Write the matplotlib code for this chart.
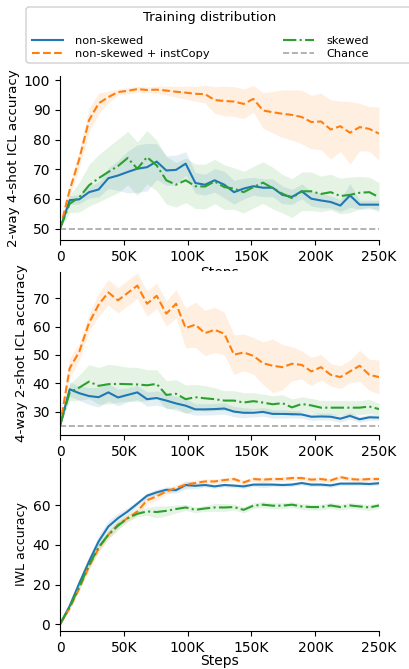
import numpy as np
import matplotlib
matplotlib.use("Agg")
import matplotlib.pyplot as plt
from matplotlib.ticker import FuncFormatter
from matplotlib.transforms import Bbox, TransformedBbox, IdentityTransform
from matplotlib.lines import Line2D
from matplotlib.patches import FancyBboxPatch

# ---------------- data ----------------
steps = np.linspace(0, 250000, 34)

# Panel 1: 2-way 4-shot ICL accuracy
p1_blue = [50, 59.6, 59.9, 62.3, 63.2, 67.0, 67.9, 69.1, 70.2, 70.7, 72.6, 69.6, 69.8, 71.9, 65.4,
           64.8, 66.3, 64.8, 62.3, 63.5, 64.3, 63.8, 63.8, 61.4, 60.7, 62.6, 60.1, 59.5, 59.0, 57.8,
           61.2, 58.1, 58.1, 58.1]
p1_blue_ci = [0, 1.5, 1.5, 2, 2.5, 3.5, 5, 7, 8, 8, 6, 5, 5, 4, 3.5, 3.5, 4, 4.5, 4, 3.5, 3, 3, 3, 3,
              2.5, 2.5, 2.5, 2.5, 2, 2, 4, 1.5, 1.5, 1.5]
p1_orange = [50, 63, 73.5, 86.5, 92.2, 94.3, 96.0, 96.4, 97.0, 96.7, 96.8, 96.5, 96.1, 95.8, 95.4,
             95.3, 93.3, 93.0, 92.8, 92.0, 93.7, 89.8, 89.2, 88.7, 88.3, 87.6, 85.9, 86.1, 83.4, 84.5,
             82.3, 84.2, 83.6, 82.0]
p1_orange_ci = [0, 2, 3, 4, 3.5, 2, 1, 1, 1, 1, 1.2, 1.5, 1.8, 2.2, 2.5, 3, 4.5, 5, 5, 5, 4.5, 6, 7, 8,
                8.5, 9, 9, 9.5, 10, 8.5, 10.5, 8, 7.5, 9]
p1_green = [50, 58.4, 60.6, 64.6, 67.0, 69.1, 71.1, 73.8, 70.2, 74.1, 71.3, 66.3, 64.8, 66.3, 64.3,
            64.2, 65.9, 64.0, 63.5, 62.3, 64.0, 65.5, 63.7, 61.8, 60.3, 62.6, 62.6, 61.7, 62.3, 61.0,
            61.4, 62.1, 62.3, 60.6]
p1_green_ci = [0, 3, 5, 7, 8, 8.5, 9, 9, 9, 9, 8.5, 8, 7.5, 7.5, 7.5, 7.5, 7.5, 7.5, 7, 7, 7, 7, 7,
               6.5, 6.5, 6.5, 6.5, 6, 6, 6, 6, 5.5, 5, 5]

# Panel 2: 4-way 2-shot ICL accuracy
p2_blue = [25, 37.9, 36.5, 35.5, 35.1, 36.8, 35.0, 35.9, 36.8, 34.4, 34.8, 33.9, 32.9, 32.1, 30.8,
           30.8, 30.9, 31.1, 30.0, 29.6, 29.6, 29.9, 29.2, 29.2, 29.1, 29.0, 28.2, 28.3, 28.2, 27.5,
           28.5, 27.3, 28.0, 27.9]
p2_blue_ci = [0, 2.5, 2.5, 3, 3.5, 3, 3, 2.5, 2.5, 2.5, 2.5, 2.5, 2.5, 2.5, 2, 2, 2, 2, 1.8, 1.8, 1.5,
              1.5, 1.5, 1.5, 1.3, 1.3, 1.3, 1.2, 1.2, 1.2, 1.2, 1.0, 1.0, 1.0]
p2_orange = [25, 45.3, 51.2, 61.3, 67.8, 72.1, 69.3, 71.9, 74.5, 68.1, 70.9, 64.6, 68.1, 59.5, 60.7,
             57.7, 58.9, 57.5, 50.1, 50.9, 49.7, 47.1, 46.2, 45.7, 46.9, 46.5, 44.2, 45.7, 43.0, 42.2,
             44.2, 46.2, 43.0, 42.2]
p2_orange_ci = [0, 3.5, 3, 3, 4, 4.5, 4.5, 4.5, 4.5, 4.5, 4.5, 4.5, 5, 7, 8, 8, 8, 7.5, 7, 6.5, 6.5,
                7.5, 9.5, 8, 6, 5, 5, 4.5, 4, 4, 4, 5.5, 5.5, 6]
p2_green = [25, 36.8, 38.5, 40.6, 39.1, 39.7, 39.8, 39.7, 39.6, 39.3, 39.8, 35.9, 36.3, 34.4, 35.1,
            34.7, 34.4, 33.9, 33.9, 33.2, 33.7, 33.2, 32.6, 33.0, 31.5, 32.7, 32.2, 31.4, 31.4, 31.4,
            31.4, 31.4, 31.8, 30.9]
p2_green_ci = [0, 3, 4.5, 6, 6.5, 7, 6.5, 6, 6, 5.5, 5, 5, 5, 5, 4.5, 4.5, 4, 3.5, 3.5, 3.5, 3, 3, 3,
               3, 3, 2.5, 2.5, 2.5, 2.5, 2.5, 2.5, 2.5, 2.5, 2]

# Panel 3: IWL accuracy
p3_blue = [0, 9.2, 20.7, 31.6, 41.7, 49.2, 53.4, 56.8, 60.7, 64.7, 66.4, 67.7, 67.5, 70.1, 69.7,
           70.1, 69.4, 70.1, 69.8, 69.4, 70.3, 70.3, 70.3, 70.1, 70.3, 71.1, 70.3, 70.3, 69.9, 70.8,
           70.8, 70.8, 70.6, 71.0]
p3_blue_ci = [0, 0.8, 1.5, 2.5, 3, 3, 2.5, 2, 1.5, 1.5, 1.5, 1.5, 1.5, 2, 1.5, 1, 1, 1, 1, 1, 1, 1.5,
              1, 1, 1, 1, 1, 1, 1, 1, 1, 1, 1, 1]
p3_orange = [0, 8.1, 18.2, 29.1, 38.3, 45.0, 50.1, 53.4, 56.8, 62.4, 64.4, 66.9, 68.6, 70.3, 71.1,
             71.9, 71.9, 72.6, 73.1, 71.4, 73.1, 72.8, 73.1, 73.1, 73.6, 73.6, 72.8, 73.1, 72.4, 74.1,
             73.1, 72.8, 73.1, 73.1]
p3_orange_ci = [0, 0.8, 1.5, 2, 2, 2, 2, 2, 2, 2, 2, 1.5, 1.5, 1.5, 1.5, 1.2, 1.2, 1.2, 1.2, 1.2, 1.2,
                1.2, 1.2, 1.2, 1.2, 1.2, 1.2, 1.2, 1.2, 1.2, 1.2, 1.2, 1.2, 1.2]
p3_green = [0, 8.6, 19.0, 29.9, 38.8, 45.0, 49.6, 53.4, 55.6, 56.8, 56.5, 57.1, 58.0, 58.8, 57.6,
            58.3, 58.8, 58.8, 59.0, 57.6, 59.7, 60.2, 59.7, 59.7, 60.2, 59.3, 59.0, 59.0, 59.8, 59.0,
            59.8, 59.3, 58.8, 59.8]
p3_green_ci = [0, 0.8, 1.5, 2, 2, 2, 2, 1.5, 1.5, 2, 3, 2.5, 2, 1.5, 1.5, 1.5, 2, 2, 1.5, 1.5, 1.5,
               1.5, 1.5, 1.5, 1.5, 1.5, 1.5, 1.5, 1.5, 1.5, 1.5, 1.5, 1.5, 1.5]

series_labels = ["non-skewed", "non-skewed + instCopy", "skewed"]
chance_label = "Chance"
legend_title = "Training distribution"
ylabels = ["2-way 4-shot ICL accuracy", "4-way 2-shot ICL accuracy", "IWL accuracy"]
chance_levels = [50, 25, None]
xticks = [0, 50000, 100000, 150000, 200000, 250000]
yticks_list = [[50, 60, 70, 80, 90, 100], [30, 40, 50, 60, 70], [0, 20, 40, 60]]

# ---------------- styling ----------------
colors = ["#1f77b4", "#ff7f0e", "#2ca02c"]
styles = ["-", "--", "-."]
chance_color = "#a6a6a6"
W, H = 409, 669

fig = plt.figure(figsize=(W / 100, H / 100), dpi=100)


def px_axes(left, top, right, bottom):
    return fig.add_axes([left / W, 1 - bottom / H, (right - left) / W, (bottom - top) / H])


axes = [px_axes(60, 76, 379, 240), px_axes(60, 272, 379, 435), px_axes(60, 458, 379, 631)]
ylims = [(46.2, 101.4), (21.75, 79.3), (-3.4, 83.7)]
ylabel_sizes = [9.7, 9.7, 9.0]
xlabel_pads = [1.5, 1.5, -0.5]
panels = [
    [(p1_blue, p1_blue_ci), (p1_orange, p1_orange_ci), (p1_green, p1_green_ci)],
    [(p2_blue, p2_blue_ci), (p2_orange, p2_orange_ci), (p2_green, p2_green_ci)],
    [(p3_blue, p3_blue_ci), (p3_orange, p3_orange_ci), (p3_green, p3_green_ci)],
]
kfmt = FuncFormatter(lambda v, _: "0" if v == 0 else f"{int(round(v / 1000))}K")

for k, ax in enumerate(axes):
    for (mean, ci), c, ls in zip(panels[k], colors, styles):
        m = np.asarray(mean, float)
        e = np.asarray(ci, float)
        ax.fill_between(steps, m - e, m + e, color=c, alpha=0.12, linewidth=0)
        ax.plot(steps, m, color=c, linestyle=ls, linewidth=1.5)
    if chance_levels[k] is not None:
        ax.axhline(chance_levels[k], color=chance_color, linestyle="--", linewidth=1.2)
    ax.set_xlim(0, 250000)
    ax.set_ylim(*ylims[k])
    ax.set_xticks(xticks)
    ax.xaxis.set_major_formatter(kfmt)
    ax.set_yticks(yticks_list[k])
    ax.tick_params(labelsize=10, length=3.5, width=0.8)
    ax.spines["top"].set_visible(False)
    ax.spines["right"].set_visible(False)
    ax.set_ylabel(ylabels[k], fontsize=ylabel_sizes[k], labelpad=3)
    ax.set_xlabel("Steps", fontsize=10, labelpad=xlabel_pads[k])

# clip the partially hidden "Steps" labels of the first two panels
for ax, cut in [(axes[0], 271), (axes[1], 469)]:
    lab = ax.xaxis.label
    lab.set_clip_box(TransformedBbox(Bbox([[0, 1 - cut / H], [1, 1]]), fig.transFigure))
    lab.set_clip_on(True)

# legend frame (runs off the right edge, as in the reference)
frame = FancyBboxPatch((26, H - 63), 400, 56, boxstyle="round,pad=0,rounding_size=3",
                       transform=IdentityTransform(), facecolor="white", edgecolor="#d0d0d0",
                       linewidth=1.0, zorder=5)
fig.add_artist(frame)
fig.text(210 / W, 1 - 17 / H, legend_title, ha="center", va="center", fontsize=9.5, zorder=6)

handles = [Line2D([], [], color=c, linestyle=ls, linewidth=1.5) for c, ls in zip(colors, styles)]
handles.append(Line2D([], [], color=chance_color, linestyle="--", linewidth=1.2))
labels = series_labels + [chance_label]
leg = fig.legend(handles, labels, ncol=2, fontsize=8.2, loc="upper left",
                 bbox_to_anchor=(32 / W, 1 - 35.5 / H), borderaxespad=0, borderpad=0,
                 handlelength=2.75, handletextpad=1.05, columnspacing=6.4, frameon=False,
                 labelspacing=0.28)
leg.set_zorder(7)

fig.savefig("out.png", dpi=100)
